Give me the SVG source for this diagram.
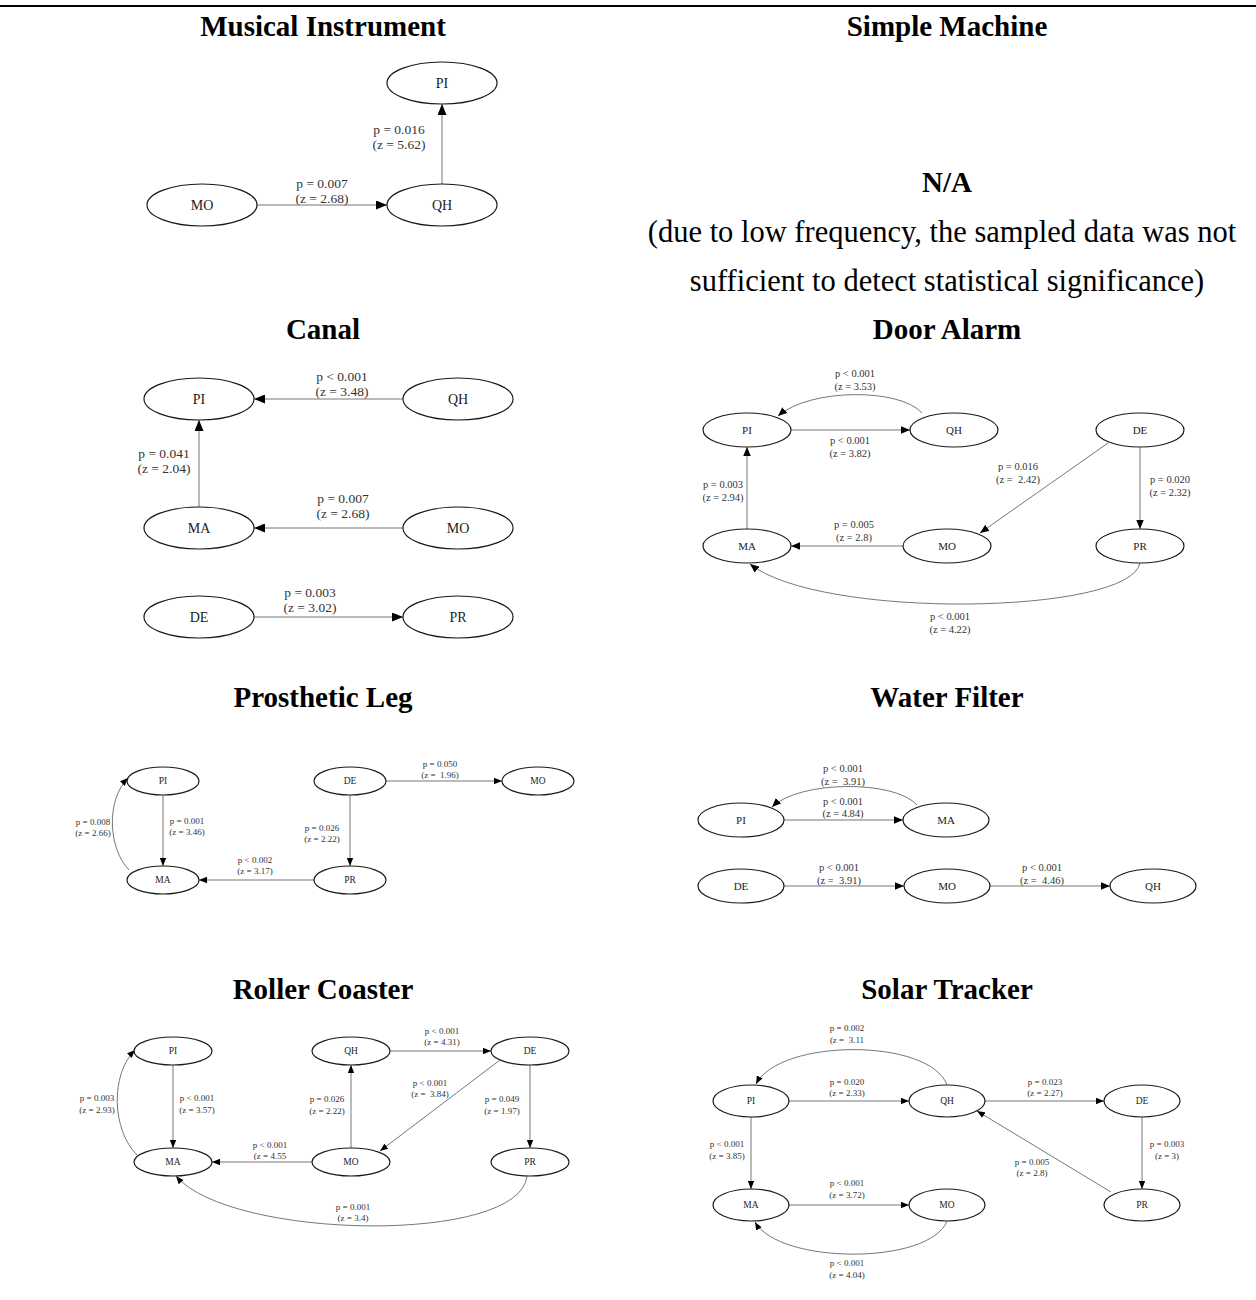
<svg xmlns="http://www.w3.org/2000/svg" width="1256" height="1300" viewBox="0 0 1256 1300">
<style>
text{font-family:"Liberation Serif","Times New Roman",serif;text-anchor:middle}
.title{font-size:29px;font-weight:bold;fill:#000}
.body{font-size:30.5px;fill:#000}
.n ellipse{fill:#fff;stroke:#1a1a1a;stroke-width:1.2}
.n text{fill:#222;dominant-baseline:central}
.L .n text{font-size:14px}
.M .n text{font-size:11px}
.S .n text{font-size:9.5px}
.lb{fill:#333}
.L .lb{font-size:13.5px}
.M .lb{font-size:10.5px}
.S .lb{font-size:9px}
.e path{fill:none;stroke:#777;stroke-width:1}
.L .e path{marker-end:url(#aL)}
.M .e path{marker-end:url(#aM)}
.S .e path{marker-end:url(#aS)}
</style>
<defs>
<marker id="aL" viewBox="0 0 11 9" refX="11" refY="4.5" markerWidth="11" markerHeight="9" markerUnits="userSpaceOnUse" orient="auto"><path d="M0,0 L11,4.5 L0,9 z" fill="#000"/></marker>
<marker id="aM" viewBox="0 0 9 7.5" refX="9" refY="3.75" markerWidth="9" markerHeight="7.5" markerUnits="userSpaceOnUse" orient="auto"><path d="M0,0 L9,3.75 L0,7.5 z" fill="#000"/></marker>
<marker id="aS" viewBox="0 0 8 6.5" refX="8" refY="3.25" markerWidth="8" markerHeight="6.5" markerUnits="userSpaceOnUse" orient="auto"><path d="M0,0 L8,3.25 L0,6.5 z" fill="#000"/></marker>
</defs>
<rect width="1256" height="1300" fill="#fff"/>
<line x1="0" y1="6" x2="1256" y2="6" stroke="#000" stroke-width="2"/>

<!-- titles -->
<g id="titles">
<text class="title" x="323" y="36">Musical Instrument</text>
<text class="title" x="947" y="36">Simple Machine</text>
<text class="title" x="323" y="339">Canal</text>
<text class="title" x="947" y="339">Door Alarm</text>
<text class="title" x="323" y="707">Prosthetic Leg</text>
<text class="title" x="947" y="707">Water Filter</text>
<text class="title" x="323" y="999">Roller Coaster</text>
<text class="title" x="947" y="999">Solar Tracker</text>
</g>

<!-- Simple Machine -->
<g id="simple-machine">
<text class="title" x="947" y="192">N/A</text>
<text class="body" x="942" y="242">(due to low frequency, the sampled data was not</text>
<text class="body" x="947" y="291">sufficient to detect statistical significance)</text>
</g>

<!-- Musical Instrument -->
<g id="musical-instrument" class="L">
<g class="e" id="mi-edges">
<path d="M257,205 L387,205"/>
<path d="M442,184 L442,104"/>
<text class="lb"><tspan x="399" y="134">p = 0.016</tspan><tspan x="399" dy="15">(z = 5.62)</tspan></text>
<text class="lb"><tspan x="322" y="188">p = 0.007</tspan><tspan x="322" dy="15">(z = 2.68)</tspan></text>
</g>
<g id="mi-PI" class="n"><ellipse cx="442" cy="83" rx="55" ry="21"/><text x="442" y="83">PI</text></g>
<g id="mi-QH" class="n"><ellipse cx="442" cy="205" rx="55" ry="21"/><text x="442" y="205">QH</text></g>
<g id="mi-MO" class="n"><ellipse cx="202" cy="205" rx="55" ry="21"/><text x="202" y="205">MO</text></g>
</g>

<!-- Canal -->
<g id="canal" class="L">
<g class="e" id="canal-edges">
<path d="M403,399 L254,399"/>
<path d="M199,507 L199,420"/>
<path d="M403,528 L254,528"/>
<path d="M254,617 L403,617"/>
<text class="lb"><tspan x="342" y="381">p &lt; 0.001</tspan><tspan x="342" dy="15">(z = 3.48)</tspan></text>
<text class="lb"><tspan x="164" y="458">p = 0.041</tspan><tspan x="164" dy="15">(z = 2.04)</tspan></text>
<text class="lb"><tspan x="343" y="503">p = 0.007</tspan><tspan x="343" dy="15">(z = 2.68)</tspan></text>
<text class="lb"><tspan x="310" y="597">p = 0.003</tspan><tspan x="310" dy="15">(z = 3.02)</tspan></text>
</g>
<g id="canal-PI" class="n"><ellipse cx="199" cy="399" rx="55" ry="21"/><text x="199" y="399">PI</text></g>
<g id="canal-QH" class="n"><ellipse cx="458" cy="399" rx="55" ry="21"/><text x="458" y="399">QH</text></g>
<g id="canal-MA" class="n"><ellipse cx="199" cy="528" rx="55" ry="21"/><text x="199" y="528">MA</text></g>
<g id="canal-MO" class="n"><ellipse cx="458" cy="528" rx="55" ry="21"/><text x="458" y="528">MO</text></g>
<g id="canal-DE" class="n"><ellipse cx="199" cy="617" rx="55" ry="21"/><text x="199" y="617">DE</text></g>
<g id="canal-PR" class="n"><ellipse cx="458" cy="617" rx="55" ry="21"/><text x="458" y="617">PR</text></g>
</g>

<!-- Door Alarm -->
<g id="door-alarm" class="M">
<g class="e" id="da-edges">
<path d="M791,430 L910,430"/>
<path d="M922,413 C900,388 810,388 778,416"/>
<path d="M1108,443 L980,533"/>
<path d="M1140,447 L1140,529"/>
<path d="M747,529 L747,447"/>
<path d="M903,546 L791,546"/>
<path d="M1140,563 C1130,615 820,620 750,564"/>
<text class="lb"><tspan x="855" y="377">p &lt; 0.001</tspan><tspan x="855" dy="13">(z = 3.53)</tspan></text>
<text class="lb"><tspan x="850" y="444">p &lt; 0.001</tspan><tspan x="850" dy="13">(z = 3.82)</tspan></text>
<text class="lb"><tspan x="1018" y="470">p = 0.016</tspan><tspan x="1018" dy="13">(z =&#160; 2.42)</tspan></text>
<text class="lb"><tspan x="1170" y="483">p = 0.020</tspan><tspan x="1170" dy="13">(z = 2.32)</tspan></text>
<text class="lb"><tspan x="723" y="488">p = 0.003</tspan><tspan x="723" dy="13">(z = 2.94)</tspan></text>
<text class="lb"><tspan x="854" y="528">p = 0.005</tspan><tspan x="854" dy="13">(z = 2.8)</tspan></text>
<text class="lb"><tspan x="950" y="620">p &lt; 0.001</tspan><tspan x="950" dy="13">(z = 4.22)</tspan></text>
</g>
<g id="da-PI" class="n"><ellipse cx="747" cy="430" rx="44" ry="17"/><text x="747" y="430">PI</text></g>
<g id="da-QH" class="n"><ellipse cx="954" cy="430" rx="44" ry="17"/><text x="954" y="430">QH</text></g>
<g id="da-DE" class="n"><ellipse cx="1140" cy="430" rx="44" ry="17"/><text x="1140" y="430">DE</text></g>
<g id="da-MA" class="n"><ellipse cx="747" cy="546" rx="44" ry="17"/><text x="747" y="546">MA</text></g>
<g id="da-MO" class="n"><ellipse cx="947" cy="546" rx="44" ry="17"/><text x="947" y="546">MO</text></g>
<g id="da-PR" class="n"><ellipse cx="1140" cy="546" rx="44" ry="17"/><text x="1140" y="546">PR</text></g>
</g>

<!-- Prosthetic Leg -->
<g id="prosthetic-leg" class="S">
<g class="e" id="pl-edges">
<path d="M386,781 L502,781"/>
<path d="M163,795 L163,866"/>
<path d="M350,795 L350,866"/>
<path d="M314,880 L199,880"/>
<path d="M129,870 C108,848 106,800 128,778"/>
<text class="lb"><tspan x="440" y="767">p = 0.050</tspan><tspan x="440" dy="11">(z =&#160; 1.96)</tspan></text>
<text class="lb"><tspan x="187" y="824">p = 0.001</tspan><tspan x="187" dy="11">(z = 3.46)</tspan></text>
<text class="lb"><tspan x="322" y="831">p = 0.026</tspan><tspan x="322" dy="11">(z = 2.22)</tspan></text>
<text class="lb"><tspan x="255" y="863">p &lt; 0.002</tspan><tspan x="255" dy="11">(z = 3.17)</tspan></text>
<text class="lb"><tspan x="93" y="825">p = 0.008</tspan><tspan x="93" dy="11">(z = 2.66)</tspan></text>
</g>
<g id="pl-PI" class="n"><ellipse cx="163" cy="781" rx="36" ry="14"/><text x="163" y="781">PI</text></g>
<g id="pl-MA" class="n"><ellipse cx="163" cy="880" rx="36" ry="14"/><text x="163" y="880">MA</text></g>
<g id="pl-DE" class="n"><ellipse cx="350" cy="781" rx="36" ry="14"/><text x="350" y="781">DE</text></g>
<g id="pl-PR" class="n"><ellipse cx="350" cy="880" rx="36" ry="14"/><text x="350" y="880">PR</text></g>
<g id="pl-MO" class="n"><ellipse cx="538" cy="781" rx="36" ry="14"/><text x="538" y="781">MO</text></g>
</g>

<!-- Water Filter -->
<g id="water-filter" class="M">
<g class="e" id="wf-edges">
<path d="M784,820 L903,820"/>
<path d="M917,805 C895,780 800,780 772,807"/>
<path d="M784,886 L904,886"/>
<path d="M990,886 L1110,886"/>
<text class="lb"><tspan x="843" y="772">p &lt; 0.001</tspan><tspan x="843" dy="13">(z =&#160; 3.91)</tspan></text>
<text class="lb"><tspan x="843" y="805">p &lt; 0.001</tspan><tspan x="843" dy="12">(z = 4.84)</tspan></text>
<text class="lb"><tspan x="839" y="871">p &lt; 0.001</tspan><tspan x="839" dy="13">(z =&#160; 3.91)</tspan></text>
<text class="lb"><tspan x="1042" y="871">p &lt; 0.001</tspan><tspan x="1042" dy="13">(z =&#160; 4.46)</tspan></text>
</g>
<g id="wf-PI" class="n"><ellipse cx="741" cy="820" rx="43" ry="17"/><text x="741" y="820">PI</text></g>
<g id="wf-MA" class="n"><ellipse cx="946" cy="820" rx="43" ry="17"/><text x="946" y="820">MA</text></g>
<g id="wf-DE" class="n"><ellipse cx="741" cy="886" rx="43" ry="17"/><text x="741" y="886">DE</text></g>
<g id="wf-MO" class="n"><ellipse cx="947" cy="886" rx="43" ry="17"/><text x="947" y="886">MO</text></g>
<g id="wf-QH" class="n"><ellipse cx="1153" cy="886" rx="43" ry="17"/><text x="1153" y="886">QH</text></g>
</g>

<!-- Roller Coaster -->
<g id="roller-coaster" class="S">
<g class="e" id="rc-edges">
<path d="M390,1051 L491,1051"/>
<path d="M173,1065 L173,1148"/>
<path d="M351,1148 L351,1065"/>
<path d="M500,1060 L380,1151"/>
<path d="M530,1065 L530,1148"/>
<path d="M312,1162 L212,1162"/>
<path d="M137,1155 C112,1130 110,1075 135,1050"/>
<path d="M527,1176 C520,1245 230,1240 176,1176"/>
<text class="lb"><tspan x="442" y="1034">p &lt; 0.001</tspan><tspan x="442" dy="11">(z = 4.31)</tspan></text>
<text class="lb"><tspan x="197" y="1101">p &lt; 0.001</tspan><tspan x="197" dy="12">(z = 3.57)</tspan></text>
<text class="lb"><tspan x="327" y="1102">p = 0.026</tspan><tspan x="327" dy="12">(z = 2.22)</tspan></text>
<text class="lb"><tspan x="430" y="1086">p &lt; 0.001</tspan><tspan x="430" dy="11">(z =&#160; 3.84)</tspan></text>
<text class="lb"><tspan x="502" y="1102">p = 0.049</tspan><tspan x="502" dy="12">(z = 1.97)</tspan></text>
<text class="lb"><tspan x="270" y="1148">p &lt; 0.001</tspan><tspan x="270" dy="11">(z = 4.55</tspan></text>
<text class="lb"><tspan x="97" y="1101">p = 0.003</tspan><tspan x="97" dy="12">(z = 2.93)</tspan></text>
<text class="lb"><tspan x="353" y="1210">p = 0.001</tspan><tspan x="353" dy="11">(z = 3.4)</tspan></text>
</g>
<g id="rc-PI" class="n"><ellipse cx="173" cy="1051" rx="39" ry="14"/><text x="173" y="1051">PI</text></g>
<g id="rc-QH" class="n"><ellipse cx="351" cy="1051" rx="39" ry="14"/><text x="351" y="1051">QH</text></g>
<g id="rc-DE" class="n"><ellipse cx="530" cy="1051" rx="39" ry="14"/><text x="530" y="1051">DE</text></g>
<g id="rc-MA" class="n"><ellipse cx="173" cy="1162" rx="39" ry="14"/><text x="173" y="1162">MA</text></g>
<g id="rc-MO" class="n"><ellipse cx="351" cy="1162" rx="39" ry="14"/><text x="351" y="1162">MO</text></g>
<g id="rc-PR" class="n"><ellipse cx="530" cy="1162" rx="39" ry="14"/><text x="530" y="1162">PR</text></g>
</g>

<!-- Solar Tracker -->
<g id="solar-tracker" class="S">
<g class="e" id="st-edges">
<path d="M789,1101 L909,1101"/>
<path d="M947,1085 C930,1038 780,1038 756,1084"/>
<path d="M985,1101 L1104,1101"/>
<path d="M1142,1117 L1142,1189"/>
<path d="M1111,1192 L977,1111"/>
<path d="M751,1117 L751,1189"/>
<path d="M789,1205 L909,1205"/>
<path d="M947,1221 C930,1265 780,1265 755,1222"/>
<text class="lb"><tspan x="847" y="1031">p = 0.002</tspan><tspan x="847" dy="12">(z =&#160; 3.11</tspan></text>
<text class="lb"><tspan x="847" y="1085">p = 0.020</tspan><tspan x="847" dy="11">(z = 2.33)</tspan></text>
<text class="lb"><tspan x="1045" y="1085">p = 0.023</tspan><tspan x="1045" dy="11">(z = 2.27)</tspan></text>
<text class="lb"><tspan x="1167" y="1147">p = 0.003</tspan><tspan x="1167" dy="12">(z = 3)</tspan></text>
<text class="lb"><tspan x="1032" y="1165">p = 0.005</tspan><tspan x="1032" dy="11">(z = 2.8)</tspan></text>
<text class="lb"><tspan x="727" y="1147">p &lt; 0.001</tspan><tspan x="727" dy="12">(z = 3.85)</tspan></text>
<text class="lb"><tspan x="847" y="1186">p &lt; 0.001</tspan><tspan x="847" dy="12">(z = 3.72)</tspan></text>
<text class="lb"><tspan x="847" y="1266">p &lt; 0.001</tspan><tspan x="847" dy="12">(z = 4.04)</tspan></text>
</g>
<g id="st-PI" class="n"><ellipse cx="751" cy="1101" rx="38" ry="16"/><text x="751" y="1101">PI</text></g>
<g id="st-QH" class="n"><ellipse cx="947" cy="1101" rx="38" ry="16"/><text x="947" y="1101">QH</text></g>
<g id="st-DE" class="n"><ellipse cx="1142" cy="1101" rx="38" ry="16"/><text x="1142" y="1101">DE</text></g>
<g id="st-MA" class="n"><ellipse cx="751" cy="1205" rx="38" ry="16"/><text x="751" y="1205">MA</text></g>
<g id="st-MO" class="n"><ellipse cx="947" cy="1205" rx="38" ry="16"/><text x="947" y="1205">MO</text></g>
<g id="st-PR" class="n"><ellipse cx="1142" cy="1205" rx="38" ry="16"/><text x="1142" y="1205">PR</text></g>
</g>
</svg>
